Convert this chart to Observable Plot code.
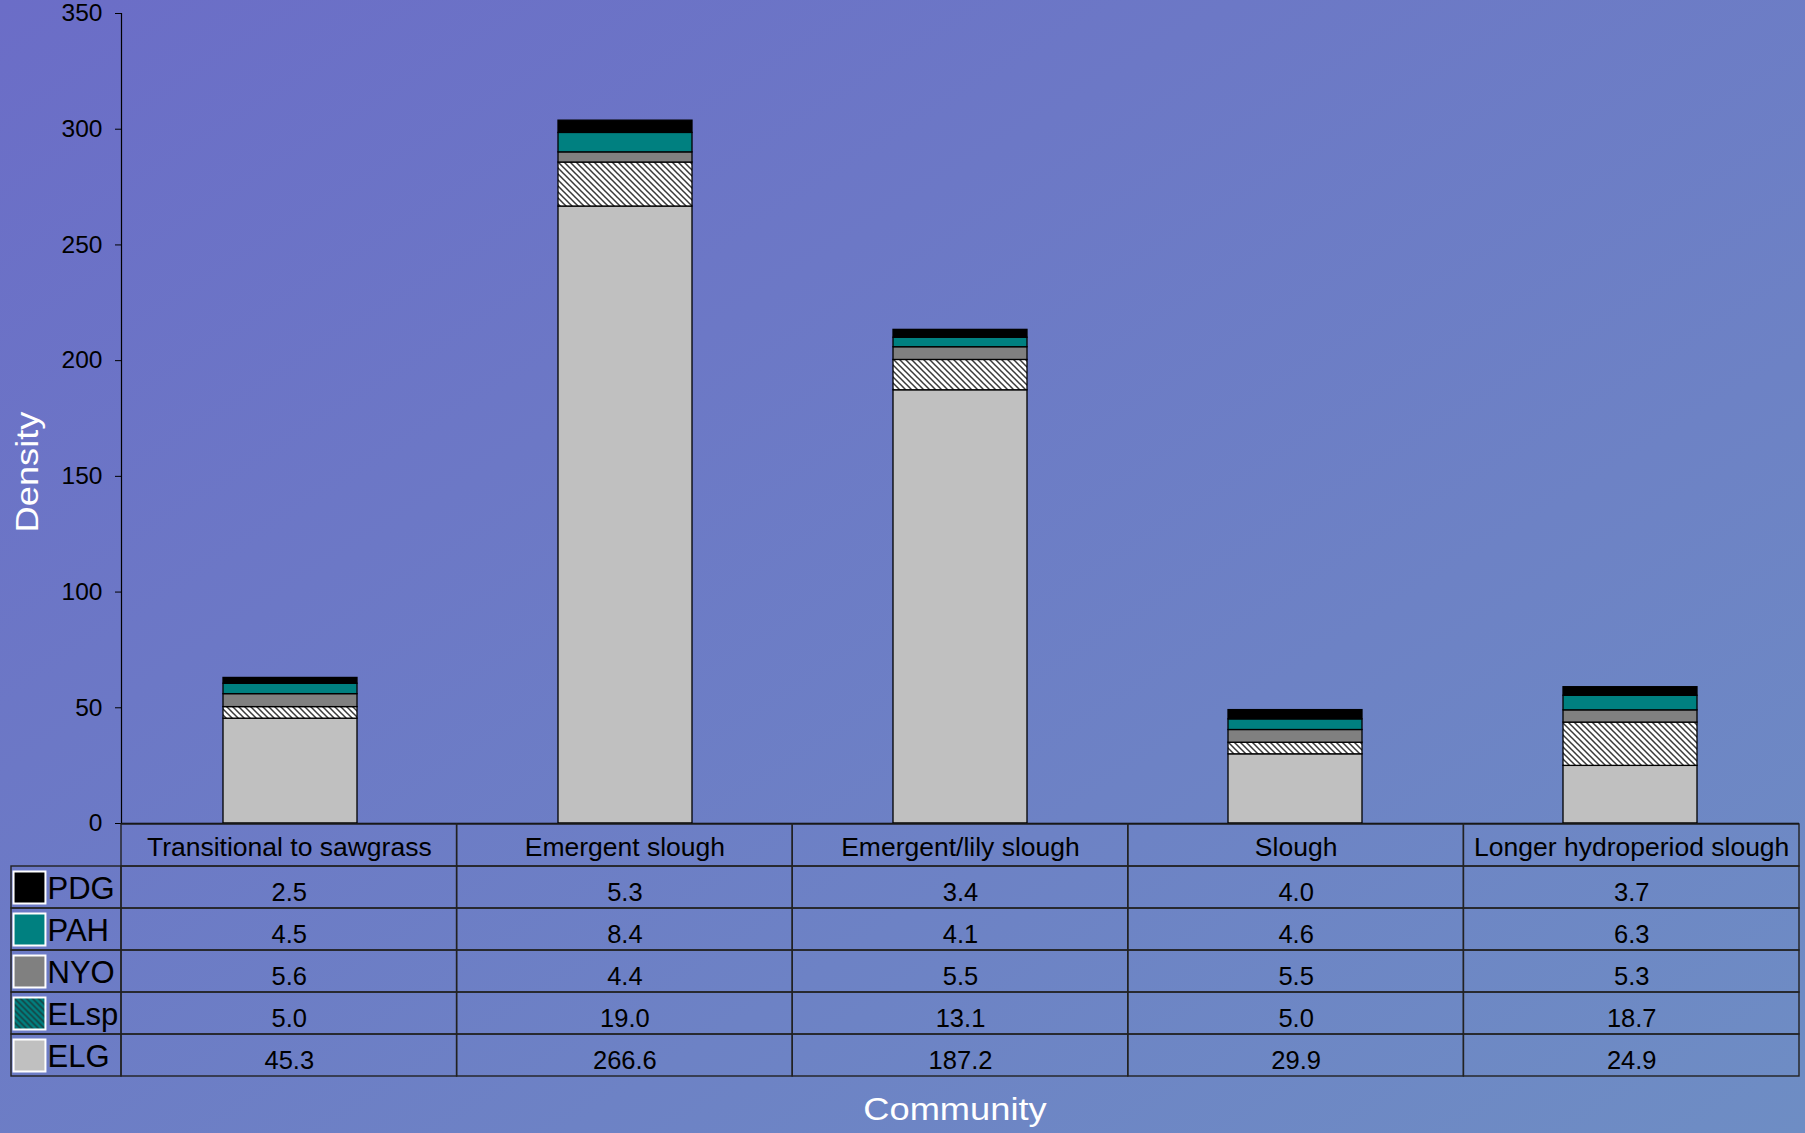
<!DOCTYPE html>
<html>
<head>
<meta charset="utf-8">
<script src="https://cdn.jsdelivr.net/npm/d3@7"></script>
<script src="https://cdn.jsdelivr.net/npm/@observablehq/plot@0.6"></script>
<style>
  html, body { margin: 0; padding: 0; }
  body {
    width: 1805px; height: 1133px; overflow: hidden;
    background: linear-gradient(to bottom right, #6b6dc7, #6e8dc4);
    font-family: "Liberation Sans", Arial, sans-serif;
  }
  #wrap { position: relative; width: 1805px; height: 1133px; }
  #chart { position: absolute; left: 0; top: 0; }
  #table { position: absolute; left: 0; top: 823px; }
  .title { position: absolute; color: #fff; font-size: 31px; white-space: nowrap; line-height: 1; }
  #ytitle { left: 27px; top: 472px; transform: translate(-50%, -50%) rotate(-90deg) scaleX(1.17); }
  #xtitle { left: 955px; top: 1109px; transform: translate(-50%, -50%) scaleX(1.17); }
</style>
</head>
<body>
<svg width="0" height="0" style="position:absolute">
  <defs>
    <pattern id="hatch" patternUnits="userSpaceOnUse" width="6" height="6">
      <rect width="6" height="6" fill="#ffffff"/>
      <path d="M-1,-1 L7,7 M-1,5 L1,7 M5,-1 L7,1" stroke="#3a3a3a" stroke-width="1.5"/>
    </pattern>
    <pattern id="hatchTeal" patternUnits="userSpaceOnUse" width="6" height="6">
      <rect width="6" height="6" fill="#008080"/>
      <path d="M-1,-1 L7,7 M-1,5 L1,7 M5,-1 L7,1" stroke="#1a3a3a" stroke-width="1.5"/>
    </pattern>
  </defs>
</svg>
<div id="wrap">
  <div id="chart"></div>
  <div id="table"></div>
  <div class="title" id="ytitle">Density</div>
  <div class="title" id="xtitle">Community</div>
</div>
<script>
// ---- data ----
const categories = ["Transitional to sawgrass", "Emergent slough", "Emergent/lily slough", "Slough", "Longer hydroperiod slough"];
const series = ["PDG", "PAH", "NYO", "ELsp", "ELG"];          // table order, top to bottom
const stackOrder = ["ELG", "ELsp", "NYO", "PAH", "PDG"];      // bottom to top in bars
const PDG  = [2.5, 5.3, 3.4, 4.0, 3.7];
const PAH  = [4.5, 8.4, 4.1, 4.6, 6.3];
const NYO  = [5.6, 4.4, 5.5, 5.5, 5.3];
const ELsp = [5.0, 19.0, 13.1, 5.0, 18.7];
const ELG  = [45.3, 266.6, 187.2, 29.9, 24.9];
const yTicks = [0, 50, 100, 150, 200, 250, 300, 350];
const barColors = ["#000000", "#008080", "#808080", "url(#hatch)", "#c0c0c0"];
const legendColors = ["#000000", "#008080", "#808080", "url(#hatchTeal)", "#c0c0c0"];

const valuesBySeries = {PDG, PAH, NYO, ELsp, ELG};
const data = stackOrder.flatMap(s => categories.map((c, i) => ({community: c, series: s, value: valuesBySeries[s][i]})));

const font = "'Liberation Sans', Arial, sans-serif";

// ---- chart ----
const chart = Plot.plot({
  width: 1805,
  height: 826,
  marginTop: 13,
  marginBottom: 3,
  marginLeft: 121,
  marginRight: 6,
  style: {background: "transparent", fontFamily: font, color: "#000", overflow: "visible"},
  x: {domain: categories, paddingInner: 0.6, paddingOuter: 0.3, axis: null},
  y: {domain: [0, 350]},
  color: {domain: series, range: barColors},
  marks: [
    Plot.barY(data, {x: "community", y: "value", fill: "series", stroke: "#000", strokeWidth: 1.3}),
    Plot.axisY({ticks: yTicks, tickSize: 6, tickPadding: 13, fontSize: 24.5, tickFormat: d => d, label: null, stroke: "#000"}),
    Plot.frame({anchor: "left", stroke: "#000", strokeWidth: 1.2}),
    Plot.ruleY([0], {stroke: "#000", strokeWidth: 1.3})
  ]
});
document.getElementById("chart").append(chart);

// ---- data table below the chart ----
const legendWidth = 110 / 335.6;  // legend column width in column units
const rows = ["header", ...series];
const headerCells = categories.map((c, i) => ({row: "header", x1: i, x2: i + 1, text: c}));
const valueCells = series.flatMap(s => categories.map((c, i) => ({row: s, x1: i, x2: i + 1, text: valuesBySeries[s][i].toFixed(1)})));
const legendCells = series.map(s => ({row: s, x1: -legendWidth, x2: 0, series: s}));

const table = Plot.plot({
  width: 1805,
  height: 255,
  marginTop: 0,
  marginBottom: 2,
  marginLeft: 11,
  marginRight: 6,
  style: {background: "transparent", fontFamily: font, color: "#000", overflow: "visible"},
  x: {domain: [-legendWidth, categories.length], axis: null},
  y: {domain: rows, padding: 0, axis: null},
  color: {domain: series, range: legendColors},
  marks: [
    Plot.barX([...headerCells, ...valueCells, ...legendCells], {x1: "x1", x2: "x2", y: "row", fill: "none", stroke: "#222", strokeWidth: 1.4}),
    Plot.text(headerCells, {x: d => (d.x1 + d.x2) / 2, y: "row", text: "text", fontSize: 26.5, dy: 2}),
    Plot.text(valueCells, {x: d => (d.x1 + d.x2) / 2, y: "row", text: "text", fontSize: 25.5, dy: 5}),
    Plot.dot(legendCells, {x: "x1", y: "row", dx: 18, symbol: "square", r: 18, fill: "series", stroke: "#fff", strokeWidth: 2}),
    Plot.text(legendCells, {x: "x1", y: "row", dx: 36, dy: 2, text: "series", textAnchor: "start", fontSize: 31})
  ]
});
document.getElementById("table").append(table);
</script>
</body>
</html>
